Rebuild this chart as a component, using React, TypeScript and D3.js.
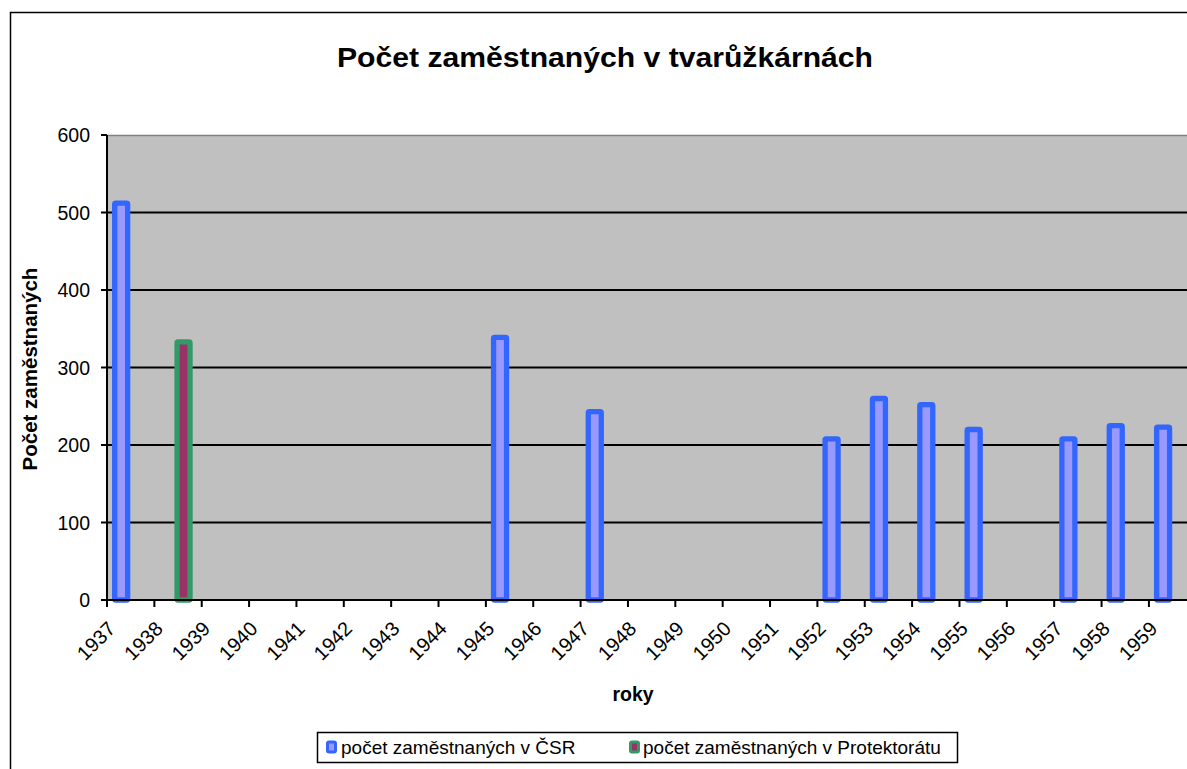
import React from "react";
import * as d3 from "d3";

const years = ["1937","1938","1939","1940","1941","1942","1943","1944","1945","1946","1947","1948","1949","1950","1951","1952","1953","1954","1955","1956","1957","1958","1959"];
const csr: (number | null)[] = [512,null,null,null,null,null,null,null,339,null,243,null,null,null,null,208,260,252,220,null,208,225,223];
const protektorat: (number | null)[] = [null,333,null,null,null,null,null,null,null,null,null,null,null,null,null,null,null,null,null,null,null,null,null];
const yTicks = [0,100,200,300,400,500,600];

const W = 1187, H = 769;
const plotL = 107, plotT = 135, plotB = 600;
const catW = 47.36;
const plotR = plotL + catW * years.length;

export default function App() {
  const x = d3.scaleBand<string>().domain(years).range([plotL, plotR]).padding(0);
  const y = d3.scaleLinear().domain([0, 600]).range([plotB, plotT]);
  const font = "Arial, 'Liberation Sans', sans-serif";
  const bw = 13;
  const sw = 5.3;
  const center = (yr: string) => (x(yr) as number) + x.bandwidth() / 2;

  return (
    <div style={{ position: "fixed", left: 0, top: 0, width: W, height: H, background: "#fff" }}>
      <svg width={W} height={H} style={{ display: "block" }} fontFamily={font}>
        <rect x={10.5} y={12.5} width={W + 20} height={H + 20} fill="#fff" stroke="#000" strokeWidth={1.5} />
        <text x={605} y={67} textAnchor="middle" fontSize={28} fontWeight="bold" textLength={536} lengthAdjust="spacingAndGlyphs">Počet zaměstnaných v tvarůžkárnách</text>

        <rect x={plotL} y={plotT} width={plotR - plotL} height={plotB - plotT} fill="#C0C0C0" />
        <line x1={plotL} x2={plotR} y1={plotT + 0.5} y2={plotT + 0.5} stroke="#808080" strokeWidth={1.5} />
        {yTicks.filter(t => t > 0 && t < 600).map(t => (
          <line key={t} x1={plotL} x2={plotR} y1={y(t)} y2={y(t)} stroke="#000" strokeWidth={2} />
        ))}

        {years.map((yr, i) => {
          const v = csr[i];
          if (v == null) return null;
          const c = center(yr);
          return <rect key={"c" + yr} x={c - 16} y={y(v)} width={bw} height={plotB - y(v)} fill="#9999FF" stroke="#3366FF" strokeWidth={sw} rx={1} />;
        })}
        {years.map((yr, i) => {
          const v = protektorat[i];
          if (v == null) return null;
          const c = center(yr);
          return <rect key={"p" + yr} x={c - 1} y={y(v)} width={bw} height={plotB - y(v)} fill="#993366" stroke="#339966" strokeWidth={sw} rx={1} />;
        })}

        <line x1={plotL} x2={plotL} y1={plotT} y2={plotB} stroke="#000" strokeWidth={2} />
        <line x1={plotL - 6} x2={plotR} y1={plotB} y2={plotB} stroke="#000" strokeWidth={2} />
        {yTicks.map(t => (
          <g key={"yt" + t}>
            <line x1={plotL - 6} x2={plotL} y1={y(t)} y2={y(t)} stroke="#000" strokeWidth={2} />
            <text x={90} y={y(t) + 7} textAnchor="end" fontSize={19.5}>{t}</text>
          </g>
        ))}
        {years.map((yr) => {
          const xx = (x(yr) as number);
          const c = center(yr);
          return (
            <g key={"xt" + yr}>
              <line x1={xx} x2={xx} y1={plotB} y2={plotB + 7} stroke="#000" strokeWidth={2} />
              <text transform={`translate(${c - 14},${630}) rotate(-45)`} textAnchor="end" fontSize={20}>{yr}</text>
            </g>
          );
        })}

        <text transform="translate(36.5,369) rotate(-90)" textAnchor="middle" fontSize={20.5} fontWeight="bold">Počet zaměstnaných</text>
        <text x={633} y={701} textAnchor="middle" fontSize={19.5} fontWeight="bold">roky</text>

        <rect x={317.5} y={732.5} width={640} height={30} fill="#fff" stroke="#000" strokeWidth={1.5} />
        <rect x={327.5} y={742} width={8} height={10} rx={1.5} fill="#9999FF" stroke="#3366FF" strokeWidth={3} />
        <text x={341} y={754} fontSize={19}>počet zaměstnaných v ČSR</text>
        <rect x={630.5} y={742} width={8} height={10} rx={1.5} fill="#993366" stroke="#339966" strokeWidth={3} />
        <text x={643} y={754} fontSize={19}>počet zaměstnaných v Protektorátu</text>
      </svg>
    </div>
  );
}
